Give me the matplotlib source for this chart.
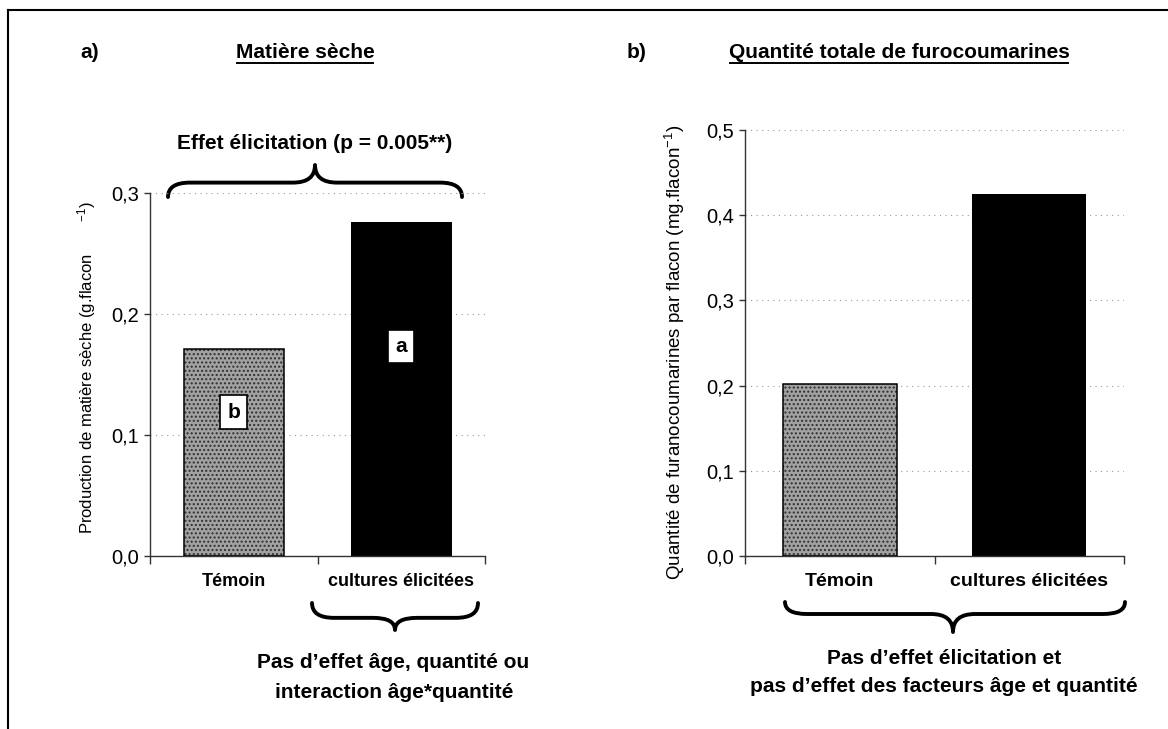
import numpy as np
import matplotlib
matplotlib.use("Agg")
import matplotlib.pyplot as plt
from matplotlib.path import Path
from matplotlib.patches import PathPatch

plt.rcParams['font.family'] = ['Liberation Sans', 'DejaVu Sans']
plt.rcParams['mathtext.fontset'] = 'custom'
plt.rcParams['mathtext.rm'] = 'Liberation Sans'
plt.rcParams['mathtext.default'] = 'regular'
plt.rcParams['hatch.linewidth'] = 1.0

# data
categories = ["Témoin", "cultures élicitées"]
matiere_seche = [0.171, 0.276]
furocoumarines = [0.202, 0.425]
lettres = ["b", "a"]
lettres_y = [0.119, 0.173]
ticks_a = [0.0, 0.1, 0.2, 0.3]
ticks_b = [0.0, 0.1, 0.2, 0.3, 0.4, 0.5]

W, H = 1168, 729
fig = plt.figure(figsize=(W / 100, H / 100), dpi=100)

# overlay in pixel coords for free text, braces and frame
ov = fig.add_axes([0, 0, 1, 1], zorder=0)
ov.set_xlim(0, W)
ov.set_ylim(H, 0)
ov.axis('off')


def px_axes(l, t, r, b):
    ax = fig.add_axes([l / W, 1 - b / H, (r - l) / W, (b - t) / H], zorder=1)
    ax.set_facecolor('none')
    return ax


def panel(ax, values, ticks, xlab_size):
    x = np.arange(len(values))
    # stippled grey bar for the control
    ax.bar(x[0], values[0], width=0.6, color='#a2a2a2', hatch='....',
           edgecolor='#303030', linewidth=0, zorder=2)
    ax.bar(x[0], values[0], width=0.6, fill=False, edgecolor='black',
           linewidth=1.1, zorder=3)
    ax.bar(x[1], values[1], width=0.6, color='black', zorder=2)
    ax.set_xlim(-0.5, 1.5)
    ax.set_ylim(0, ticks[-1])
    ax.set_yticks(ticks)
    ax.set_yticklabels([f"{t:.1f}".replace('.', ',') for t in ticks])
    ax.set_xticks([-0.5, 0.5, 1.5])
    ax.set_xticklabels([])
    ax.set_xticks(x, minor=True)
    ax.set_xticklabels(categories, minor=True, fontweight='bold',
                       fontsize=xlab_size)
    ax.tick_params(axis='x', which='major', length=6, width=1, color='#333333')
    ax.tick_params(axis='x', which='minor', length=0, pad=12)
    ax.tick_params(axis='y', length=4, width=1, pad=4, labelsize=14.5,
                   color='#333333')
    for s in ['top', 'right']:
        ax.spines[s].set_visible(False)
    for s in ['left', 'bottom']:
        ax.spines[s].set_color('#333333')
        ax.spines[s].set_linewidth(1)
    ax.yaxis.grid(True, linestyle=(0, (1, 4)), color='#999999', linewidth=0.8)
    ax.set_axisbelow(True)


ax_a = px_axes(150, 193, 485, 556)
panel(ax_a, matiere_seche, ticks_a, 13)
for i, l in enumerate(lettres):
    ax_a.text(i, lettres_y[i], l, ha='center', va='center', fontsize=15,
              fontweight='bold', zorder=5,
              bbox=dict(boxstyle='square,pad=0.35', fc='white', ec='black', lw=1.2))

ax_b = px_axes(745, 130, 1124, 556)
panel(ax_b, furocoumarines, ticks_b, 14)


def brace(x0, x1, xt, y_end, y_tip, frac=0.5, r=22):
    ym = y_end + (y_tip - y_end) * frac
    verts = [(x0, y_end), (x0, ym), (x0 + r, ym), (xt - r, ym), (xt, ym), (xt, y_tip),
             (xt, ym), (xt + r, ym), (x1 - r, ym), (x1, ym), (x1, y_end)]
    codes = [Path.MOVETO, Path.CURVE3, Path.CURVE3, Path.LINETO, Path.CURVE3, Path.CURVE3,
             Path.CURVE3, Path.CURVE3, Path.LINETO, Path.CURVE3, Path.CURVE3]
    ov.add_patch(PathPatch(Path(verts, codes), fill=False, lw=2.8,
                           edgecolor='black', capstyle='round', joinstyle='round'))


brace(168, 462, 315, 197, 165, frac=0.45)
brace(312, 478, 395, 603, 630, frac=0.55)
brace(785, 1125, 953, 602, 632, frac=0.4)

# frame (left and top only)
ov.plot([8, 8], [10, H], color='black', lw=1.5)
ov.plot([8, W], [10, 10], color='black', lw=1.5)

bold = dict(fontweight='bold', fontsize=15, va='center')
ov.text(80, 52, "a)", ha='left', **bold)
ov.text(627, 52, "b)", ha='left', **bold)
t1 = ov.text(305, 52, "Matière sèche", ha='center', **bold)
t2 = ov.text(899, 52, "Quantité totale de furocoumarines", ha='center', **bold)
ov.text(315, 143, "Effet élicitation (p = 0.005**)", ha='center', **bold)
ov.text(393, 663, "Pas d’effet âge, quantité ou", ha='center', **bold)
ov.text(394, 693, "interaction âge*quantité", ha='center', **bold)
ov.text(944, 658, "Pas d’effet élicitation et", ha='center', **bold)
ov.text(944, 686, "pas d’effet des facteurs âge et quantité", ha='center', **bold)

ov.text(87, 368, "Production de matière sèche (g.flacon" + " " * 7 + "$^{-1}$)",
        rotation=90, ha='center', va='center', fontsize=12)
ov.text(675, 352, "Quantité de furanocoumarines par flacon (mg.flacon$^{-1}$)",
        rotation=90, ha='center', va='center', fontsize=13.5)

# underline the two titles
fig.canvas.draw()
r = fig.canvas.get_renderer()
for t in [t1, t2]:
    bb = t.get_window_extent(r)
    y = H - bb.y0 + 1
    ov.plot([bb.x0 + 1, bb.x1 - 1], [y, y], color='black', lw=1.4)

fig.savefig("out.png", dpi=100)
